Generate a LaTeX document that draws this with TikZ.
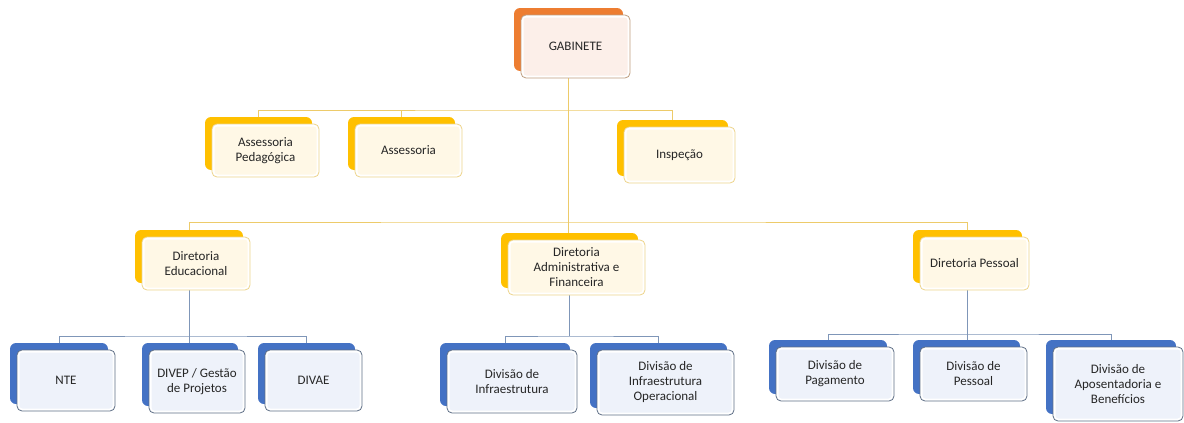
\documentclass[tikz,border=0pt]{standalone}
\usepackage{fontspec}
\setmainfont{Carlito}
\usetikzlibrary{calc}
\pgfdeclarelayer{background}
\pgfsetlayers{background,main}
\definecolor{orangeback}{HTML}{ED7D31}
\definecolor{orangetint}{HTML}{FCEFE9}
\definecolor{orangeline}{HTML}{BE9C7E}
\definecolor{goldback}{HTML}{FFC000}
\definecolor{goldtint}{HTML}{FFF8E6}
\definecolor{goldline}{HTML}{EDD48A}
\definecolor{blueback}{HTML}{4472C4}
\definecolor{bluetint}{HTML}{EEF2FA}
\definecolor{blueline}{HTML}{5F6F86}
\definecolor{goldconn}{HTML}{EDCB6A}
\definecolor{blueconn}{HTML}{7F96B8}
\definecolor{txt}{HTML}{262626}
\tikzset{
  orgback/.style={fill=#1back, draw=none, rounded corners=6pt, inner sep=0pt, outer sep=0pt},
  orgfront/.style={fill=white, draw=#1line, line width=0.8pt, rounded corners=5pt, inner sep=0pt, outer sep=0pt},
  lbl/.style={font=\fontsize{13}{15}\selectfont, align=center, text=txt, inner sep=0pt},
  goldlink/.style={draw=goldconn, line width=0.9pt},
  bluelink/.style={draw=blueconn, line width=0.9pt}
}
% name, kind, x1, y1, x2, y2 (back rectangle, pixels), text
\newcommand\orgnode[7]{%
  \node[orgback=#2, minimum width={(#5-#3)*1pt}, minimum height={(#6-#4)*1pt}] (#1-b) at ({(#3+#5)/2},{(#4+#6)/2}) {};
  \node[orgfront=#2, minimum width={(#5-#3)*1pt}, minimum height={(#6-#4)*1pt}] (#1) at ({(#3+#5)/2+7},{(#4+#6)/2+7}) {};
  \fill[#2tint, rounded corners=3pt] ([shift={(2.5pt,-2.5pt)}]#1.north west) rectangle ([shift={(-2.5pt,2.5pt)}]#1.south east);
  \node[lbl] (#1-t) at (#1.center) {#7};
}
\begin{document}
\begin{tikzpicture}[x=1pt,y=-1pt]
\useasboundingbox (0,0) rectangle (1184,423);
\orgnode{gab}{orange}{514}{8}{623}{71}{GABINETE}
\orgnode{ap}{gold}{205}{117}{312}{170}{Assessoria\\Pedagógica}
\orgnode{as}{gold}{348}{117}{455}{170}{Assessoria}
\orgnode{ins}{gold}{617}{120}{728}{176}{Inspeção}
\orgnode{ded}{gold}{135}{230}{243}{283}{Diretoria\\Educacional}
\orgnode{dadm}{gold}{501}{233}{638}{288}{Diretoria\\Administrativa e\\Financeira}
\orgnode{dpes}{gold}{913}{230}{1022}{283}{Diretoria Pessoal}
\orgnode{nte}{blue}{10}{343}{108}{404}{NTE}
\orgnode{divep}{blue}{142}{343}{238}{406}{DIVEP / Gestão\\de Projetos}
\orgnode{divae}{blue}{258}{343}{355}{404}{DIVAE}
\orgnode{dinf}{blue}{440}{343}{570}{406}{Divisão de\\Infraestrutura}
\orgnode{dinfo}{blue}{590}{343}{727}{408}{Divisão de\\Infraestrutura\\Operacional}
\orgnode{dpag}{blue}{769}{340}{887}{394}{Divisão de\\Pagamento}
\orgnode{dpess}{blue}{913}{340}{1020}{394}{Divisão de\\Pessoal}
\orgnode{dapo}{blue}{1046}{340}{1176}{414}{Divisão de\\Aposentadoria e\\Benefícios}
\begin{pgfonlayer}{background}
\coordinate (bus1) at (568.5,110);
\coordinate (bus2) at (568.5,222);
\coordinate (bus3) at (189,336);
\coordinate (bus4) at (569.5,336);
\coordinate (bus5) at (967.5,334);
\draw[goldlink] (gab-b.center) -- (gab-b.center |- dadm-b.north);
\draw[goldlink] (ap-b.north) |- (bus1) -| (ins-b.north);
\draw[goldlink] (as-b.north) -- (as-b.north |- bus1);
\draw[goldlink] (ded-b.north) |- (bus2) -| (dpes-b.north);
\draw[bluelink] (ded-b.center) -- (bus3);
\draw[bluelink] (nte-b.north) |- (bus3) -| (divae-b.north);
\draw[bluelink] (bus3) -- (bus3 |- divep-b.north);
\draw[bluelink] (dadm-b.center) -- (bus4);
\draw[bluelink] (dinf-b.north) |- (bus4) -| (dinfo-b.north);
\draw[bluelink] (dpes-b.center) -- (bus5);
\draw[bluelink] (dpag-b.north) |- (bus5) -| (dapo-b.north);
\draw[bluelink] (bus5) -- (bus5 |- dpess-b.north);
\end{pgfonlayer}
\end{tikzpicture}
\end{document}
